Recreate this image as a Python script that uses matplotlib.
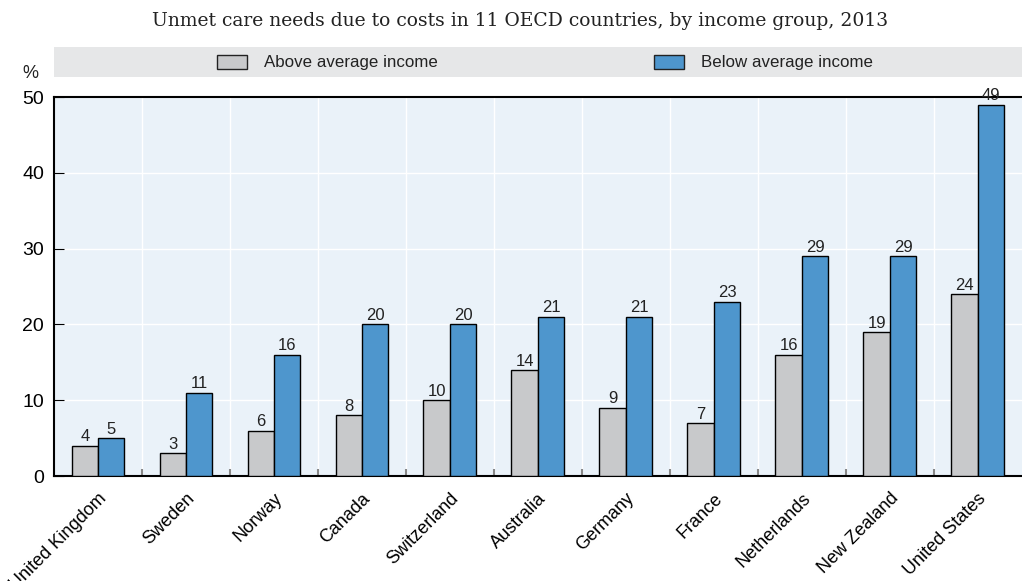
"""Unmet care needs due to costs, by income group, 2013."""

import matplotlib.pyplot as plt
import numpy as np
from matplotlib.patches import Rectangle

countries = [
    "United Kingdom", "Sweden", "Norway", "Canada", "Switzerland", "Australia",
    "Germany", "France", "Netherlands", "New Zealand", "United States",
]
above_avg = [4, 3, 6, 8, 10, 14, 9, 7, 16, 19, 24]
below_avg = [5, 11, 16, 20, 20, 21, 21, 23, 29, 29, 49]

GRAY = "#c8c9cb"
BLUE = "#4e96cd"
PANEL = "#eaf2f9"
BAND = "#e6e7e8"

plt.rcParams["font.family"] = ["Liberation Sans", "DejaVu Sans"]

fig = plt.figure(figsize=(10.22, 5.81), dpi=100)
ax = fig.add_axes([0.0528, 0.1807, 0.947, 0.6523])
ax.set_facecolor(PANEL)

x = np.arange(len(countries))
w = 0.3
b1 = ax.bar(x - w / 2, above_avg, width=w, color=GRAY, edgecolor="black", linewidth=1, zorder=3)
b2 = ax.bar(x + w / 2, below_avg, width=w, color=BLUE, edgecolor="black", linewidth=1, zorder=3)
ax.bar_label(b1, padding=1, fontsize=12, color="#222222")
ax.bar_label(b2, padding=1, fontsize=12, color="#222222")

ax.set_xlim(-0.5, len(countries) - 0.5)
ax.set_ylim(0, 50)
ax.set_yticks(range(0, 51, 10))
ax.set_xticks(x)
ax.set_xticklabels(countries, rotation=45, ha="right", rotation_mode="anchor", fontsize=13)
ax.set_xticks(x[:-1] + 0.5, minor=True)
ax.tick_params(axis="x", which="major", length=0, pad=10)
ax.tick_params(axis="x", which="minor", direction="in", length=5, color="#888888", width=1.5)
ax.tick_params(axis="y", direction="in", length=7, labelsize=14, pad=7)

ax.grid(axis="y", color="white", linewidth=1, zorder=0)
ax.grid(axis="x", which="minor", color="white", linewidth=1, zorder=0)
ax.set_axisbelow(True)

for side in ["left", "bottom", "top"]:
    ax.spines[side].set_linewidth(1.5)
ax.spines["right"].set_visible(False)

# legend band above the plot
fig.patches.append(Rectangle((0.0528, 0.867), 0.947, 0.052, transform=fig.transFigure,
                             facecolor=BAND, edgecolor="none"))
for px, col, label in [(0.2125, GRAY, "Above average income"), (0.640, BLUE, "Below average income")]:
    fig.patches.append(Rectangle((px, 0.881), 0.029, 0.025, transform=fig.transFigure,
                                 facecolor=col, edgecolor="#222222", linewidth=1))
    fig.text(px + 0.046, 0.893, label, fontsize=12.2, va="center", color="#222222")

fig.text(0.03, 0.873, "%", fontsize=13, ha="center", va="center", color="#222222")
fig.text(0.509, 0.963, "Unmet care needs due to costs in 11 OECD countries, by income group, 2013",
         fontsize=13.5, ha="center", va="center", family="DejaVu Serif", color="#222222")

fig.savefig("out.png", dpi=100)
